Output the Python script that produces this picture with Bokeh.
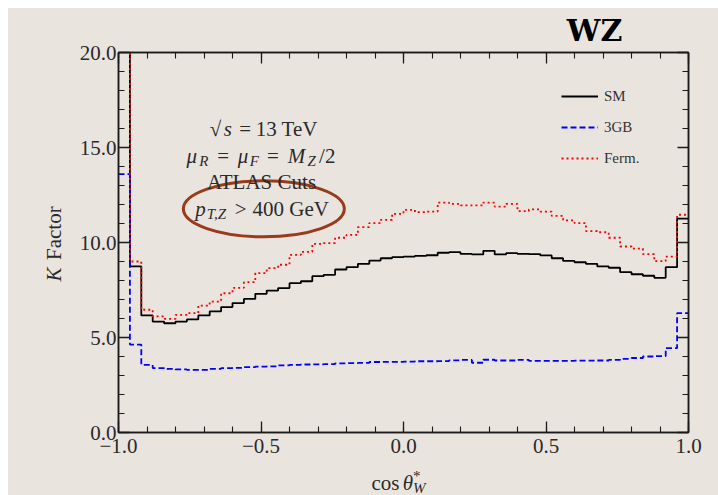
import math
from bokeh.plotting import figure
from bokeh.layouts import column, row
from bokeh.models import (Range1d, LinearAxis, FixedTicker, CustomJSTickFormatter,
                          Legend, LegendItem, Label, Spacer)
from bokeh.embed import file_html
from bokeh.resources import INLINE

# ---------------- data ----------------
bin_lo = -1.0
bin_width = 0.04
n_bins = 50

sm = [30.0, 8.74, 6.16, 5.84, 5.75, 5.84, 5.95, 6.16, 6.37, 6.60,
      6.81, 7.03, 7.30, 7.47, 7.60, 7.86, 7.96, 8.23, 8.30, 8.58,
      8.70, 8.88, 9.05, 9.17, 9.23, 9.26, 9.30, 9.33, 9.46, 9.49,
      9.40, 9.37, 9.56, 9.37, 9.44, 9.40, 9.39, 9.32, 9.17, 9.03,
      8.96, 8.88, 8.74, 8.67, 8.44, 8.33, 8.25, 8.14, 8.70, 11.26]

gb3 = [13.6, 4.63, 3.56, 3.39, 3.35, 3.32, 3.30, 3.30, 3.35, 3.39,
       3.40, 3.44, 3.47, 3.48, 3.53, 3.56, 3.58, 3.59, 3.60, 3.64,
       3.65, 3.66, 3.71, 3.72, 3.72, 3.73, 3.75, 3.75, 3.76, 3.80,
       3.82, 3.67, 3.83, 3.79, 3.79, 3.82, 3.77, 3.77, 3.77, 3.77,
       3.78, 3.78, 3.79, 3.82, 3.88, 3.92, 4.00, 4.02, 4.44, 6.28]

ferm = [32.0, 9.00, 6.46, 6.11, 5.98, 6.19, 6.28, 6.68, 6.89, 7.33,
        7.61, 7.91, 8.39, 8.65, 8.83, 9.35, 9.51, 9.93, 9.97, 10.25,
        10.40, 10.81, 11.02, 11.19, 11.51, 11.72, 11.60, 11.63, 12.10, 12.03,
        11.95, 11.95, 12.10, 11.89, 12.03, 11.65, 11.74, 11.63, 11.40, 11.16,
        11.02, 10.60, 10.54, 10.25, 9.79, 9.68, 9.39, 9.02, 9.26, 11.46]

series_labels = ["SM", "3GB", "Ferm."]
x_major = [-1.0, -0.5, 0.0, 0.5, 1.0]
y_major = [0.0, 5.0, 10.0, 15.0, 20.0]
title_text = "WZ"
info_lines = ["√s = 13 TeV", "μR = μF = MZ/2", "ATLAS Cuts", "pT,Z > 400 GeV"]
ellipse_center = (-0.49, 11.77)   # highlight around the pT cut line

# ---------------- style ----------------
BG = "#e9e5de"
AX = "#1a1a1a"
TXT = "#2a2a2a"
FONT = "Liberation Serif"
BROWN = "#9a3a1c"
DESC = 0.23   # em offset between label anchor and drawn baseline

edges = [round(bin_lo + bin_width * i, 4) for i in range(n_bins + 1)]

# layout geometry (content area 710 x 487)
TOP_H = 36          # title strip
MAIN_TOP = 8
FRAME_W, FRAME_H = 570, 380
MAIN_LEFT, MAIN_RIGHT, MAIN_BOTTOM = 42, 30, 34
YLAB_W = 68
MAIN_W = MAIN_LEFT + FRAME_W + MAIN_RIGHT
MAIN_H = MAIN_TOP + FRAME_H + MAIN_BOTTOM
XLAB_H = 487 - TOP_H - MAIN_H

p = figure(width=MAIN_W, height=MAIN_H, x_range=Range1d(-1.0, 1.0), y_range=Range1d(0.0, 20.0),
           output_backend="svg", toolbar_location=None,
           min_border_left=MAIN_LEFT, min_border_right=MAIN_RIGHT,
           min_border_top=MAIN_TOP, min_border_bottom=MAIN_BOTTOM,
           background_fill_color=BG, border_fill_color=BG)
p.grid.visible = False
p.outline_line_color = AX
p.outline_line_width = 1.5

x_minor = [round(-1.0 + 0.1 * i, 2) for i in range(21)]
y_minor = [float(i) for i in range(21)]

fmt = CustomJSTickFormatter(code="return (tick < -1e-9 ? '\u2212' : '') + Math.abs(tick).toFixed(1);")
blank = CustomJSTickFormatter(code="return '';")


def style_axis(ax, major, minor, show):
    ax.ticker = FixedTicker(ticks=major, minor_ticks=minor)
    ax.major_tick_in = 11
    ax.major_tick_out = 0
    ax.minor_tick_in = 6
    ax.minor_tick_out = 0
    ax.axis_line_color = AX
    ax.axis_line_width = 1.5
    ax.major_tick_line_color = AX
    ax.major_tick_line_width = 1.3
    ax.minor_tick_line_color = AX
    ax.minor_tick_line_width = 1.1
    ax.major_label_text_font = FONT
    ax.major_label_text_color = TXT
    ax.axis_label = None
    if show:
        ax.formatter = fmt
        ax.major_label_text_font_size = "21px"
    else:
        ax.formatter = blank
        ax.major_label_text_font_size = "0px"
        ax.major_label_standoff = 0


style_axis(p.xaxis[0], x_major, x_minor, True)
p.xaxis[0].major_label_standoff = 6
style_axis(p.yaxis[0], y_major, y_minor, True)
p.yaxis[0].major_label_standoff = 2

top_ax = LinearAxis()
style_axis(top_ax, x_major, x_minor, False)
p.add_layout(top_ax, "above")
right_ax = LinearAxis()
style_axis(right_ax, y_major, y_minor, False)
p.add_layout(right_ax, "right")

# ---------------- histograms ----------------
r_sm = p.step(x=edges, y=sm + [sm[-1]], mode="after", line_color="black", line_width=1.8)
r_gb = p.step(x=edges, y=gb3 + [gb3[-1]], mode="after", line_color="#0000ff", line_width=1.8,
              line_dash="6 3")
r_fe = p.step(x=edges, y=ferm + [ferm[-1]], mode="after", line_color="#ff0000", line_width=1.8,
              line_dash="2 3")

legend = Legend(items=[LegendItem(label=series_labels[0], renderers=[r_sm]),
                       LegendItem(label=series_labels[1], renderers=[r_gb]),
                       LegendItem(label=series_labels[2], renderers=[r_fe])],
                location=(443, 260), glyph_width=37, glyph_height=28, spacing=3,
                padding=0, margin=0, label_standoff=6,
                label_text_font=FONT, label_text_font_size="15px", label_text_color="#333333",
                background_fill_alpha=0, border_line_alpha=0)
p.add_layout(legend)

# ---------------- ellipse highlight ----------------
p.ellipse(x=[ellipse_center[0]], y=[ellipse_center[1]], width=161, height=56,
          width_units="screen", height_units="screen",
          fill_color=None, line_color=BROWN, line_width=3)

# ---------------- texts inside the frame (reference page px -> frame screen px) ----------------
FL, FB = 118, 432   # frame left / bottom in reference page pixels


def lab(fig, text, sx, sy, size, style="normal", align="center", angle=0.0, color=TXT,
        units="screen", font=FONT):
    # sy is the wanted baseline (y up); lift the anchor by the measured offset
    if angle == 0.0:
        sy = sy + DESC * size
    fig.add_layout(Label(x=sx, y=sy, x_units=units, y_units=units,
                         text=text, text_font=font, text_font_size=f"{size}px",
                         text_font_style=style, text_color=color, text_align=align,
                         text_baseline="alphabetic", angle=angle))


def plab(text, px, py, size, style="normal", align="center"):
    lab(p, text, px - FL, FB - py, size, style, align)


def runs_line(runs, left, right, baseline, size=21, sub=15):
    total = sum(r[3] for r in runs)
    scale = (right - left) / total
    x = left
    for text, style, kind, w in runs:
        cx = x + w * scale / 2
        if kind == "sub":
            plab(text, cx, baseline + 4, sub, style)
        elif text.strip():
            plab(text, cx, baseline, size, style)
        x += w * scale


runs_line([("√", "normal", "n", 0.833), ("s", "italic", "n", 0.469),
           ("=", "normal", "n", 1.334), ("13 TeV", "normal", "n", 3.0)],
          207, 315, 133)
runs_line([("μ", "italic", "n", 0.603), ("R", "italic", "sub", 0.58),
           ("=", "normal", "n", 1.334),
           ("μ", "italic", "n", 0.603), ("F", "italic", "sub", 0.5),
           ("=", "normal", "n", 1.334),
           ("M", "italic", "n", 0.97), ("Z", "italic", "sub", 0.52),
           ("/2", "normal", "n", 1.0)],
          185, 337, 160)
plab(info_lines[2], 261, 186, 21)
runs_line([("p", "italic", "n", 0.503), ("T,Z", "italic", "sub", 1.08),
           (">", "normal", "n", 1.334), ("400 GeV", "normal", "n", 3.65)],
          195, 327, 213)


# ---------------- auxiliary text strips ----------------
def strip(w, h):
    f = figure(width=w, height=h, x_range=Range1d(0, w), y_range=Range1d(0, h),
               x_axis_type=None, y_axis_type=None, output_backend="svg", toolbar_location=None,
               min_border=0, background_fill_color=BG, border_fill_color=BG)
    f.outline_line_color = None
    f.grid.visible = False
    return f


# title strip: "WZ" (content coords: centre x 586, baseline y ~29)
t_fig = strip(710, TOP_H)
lab(t_fig, title_text, 586, 7.3, 30, style="bold", color="black", units="data",
    font="DejaVu Serif")

# y label strip: "K Factor" rotated, baseline x ~55, centred at content y ~234
y_fig = strip(YLAB_W, MAIN_H)
s = 20.9
ycen = MAIN_H - (234 - TOP_H) - 15
tot = 4.06 * s
ybot = ycen - tot / 2
lab(y_fig, "K", 45, ybot + 0.849 * s / 2, 21, style="italic", angle=math.pi / 2, units="data")
lab(y_fig, "Factor", 45, ybot + (0.849 + 0.333) * s + 2.878 * s / 2, 21,
    angle=math.pi / 2, units="data")

# x label strip: cos θ*_W, baseline at content y 479
x_fig = strip(710, XLAB_H)
base = 487 - 479
x0 = 363
lab(x_fig, "cos", x0 + 1.338 * s / 2, base, 21, units="data")
lab(x_fig, "θ", x0 + (1.505 + 0.2345) * s, base, 21, style="italic", units="data")
lab(x_fig, "*", x0 + 1.99 * s, base + 8, 15, align="left", units="data")
lab(x_fig, "W", x0 + 1.99 * s, base - 4, 15, style="italic", align="left", units="data")

mid = row(y_fig, p, spacing=0, styles={"background-color": BG})
content = column(t_fig, mid, x_fig, spacing=0, styles={"background-color": BG})
page = column(Spacer(width=718, height=8), row(Spacer(width=8, height=487), content, spacing=0),
              spacing=0)

open("out.html", "w").write(file_html(page, INLINE))
